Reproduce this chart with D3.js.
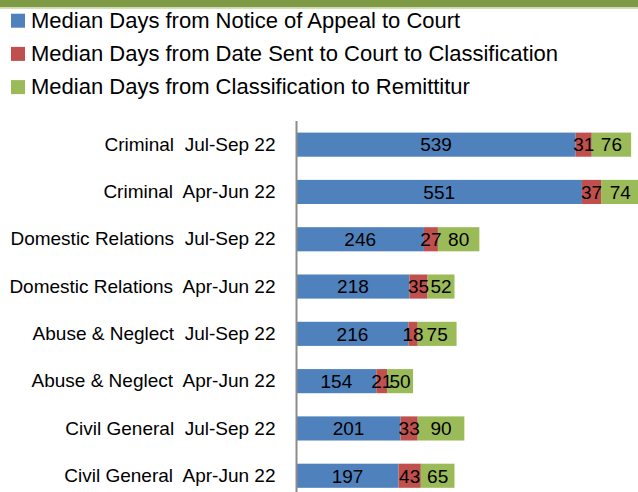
<!DOCTYPE html>
<html>
<head>
<meta charset="utf-8">
<script src="https://cdn.jsdelivr.net/npm/d3@7"></script>
<style>
    body { margin: 0; background: #fff; }
    svg { display: block; font-family: "Liberation Sans", Arial, sans-serif; }
    text { white-space: pre; }
</style>
</head>
<body>
<svg id="chart"></svg>
<script>
// categories, top to bottom
var categories = [
    "Criminal  Jul-Sep 22",
    "Criminal  Apr-Jun 22",
    "Domestic Relations  Jul-Sep 22",
    "Domestic Relations  Apr-Jun 22",
    "Abuse & Neglect  Jul-Sep 22",
    "Abuse & Neglect  Apr-Jun 22",
    "Civil General  Jul-Sep 22",
    "Civil General  Apr-Jun 22"
];

var seriesNames = [
    "Median Days from Notice of Appeal to Court",
    "Median Days from Date Sent to Court to Classification",
    "Median Days from Classification to Remittitur"
];

var noticeToCourt = [539, 551, 246, 218, 216, 154, 201, 197];
var sentToClassification = [31, 37, 27, 35, 18, 21, 33, 43];
var classificationToRemittitur = [76, 74, 80, 52, 75, 50, 90, 65];

var colours = ["#4f81bd", "#c0504d", "#9bbb59"];

var wtot = 638,
    htot = 492;

var margin = { top: 121, left: 296.5 };

const svg = d3.select("#chart")
    .attr("width", wtot)
    .attr("height", htot);

// olive band on top
svg.append("rect")
    .attr("x", 0).attr("y", 0)
    .attr("width", wtot).attr("height", 7.3)
    .attr("fill", "#7e9a45");
svg.append("rect")
    .attr("x", 0).attr("y", 7.3)
    .attr("width", wtot).attr("height", 1.5)
    .attr("fill", "#c9d9a6");

// legend
const legend = svg.append("g")
    .selectAll("g")
    .data(seriesNames)
    .join("g")
    .attr("transform", (d, i) => `translate(0, ${27.7 + i * 33.2})`);

legend.append("rect")
    .attr("x", 11)
    .attr("y", -14)
    .attr("width", 14)
    .attr("height", 14)
    .attr("fill", (d, i) => colours[i]);

legend.append("text")
    .attr("x", 31)
    .attr("y", 0)
    .attr("font-size", 22)
    .attr("fill", "#000")
    .text(d => d);

// data table for the stack
var table = categories.map((c, i) => ({
    name: c,
    s0: noticeToCourt[i],
    s1: sentToClassification[i],
    s2: classificationToRemittitur[i]
}));

const stack = d3.stack().keys(["s0", "s1", "s2"]);
const layers = stack(table);

let x = d3.scaleLinear()
    .domain([0, 700])
    .range([margin.left, margin.left + 700 * 0.518]);

let y = d3.scaleBand()
    .domain(categories)
    .range([margin.top, margin.top + 8 * 47.3])
    .paddingInner(0.49)
    .paddingOuter(0.245);

// bars
svg.append("g")
    .selectAll("g")
    .data(layers)
    .join("g")
    .attr("fill", (d, i) => colours[i])
    .selectAll("rect")
    .data(d => d)
    .join("rect")
    .attr("x", d => x(d[0]))
    .attr("width", d => x(d[1]) - x(d[0]))
    .attr("y", d => y(d.data.name))
    .attr("height", y.bandwidth());

// value labels centred in each segment, drawn above all bars
svg.append("g")
    .selectAll("g")
    .data(layers)
    .join("g")
    .selectAll("text")
    .data(d => d)
    .join("text")
    .attr("x", d => (x(d[0]) + x(d[1])) / 2)
    .attr("y", d => y(d.data.name) + y.bandwidth() / 2)
    .attr("dy", "0.36em")
    .attr("text-anchor", "middle")
    .attr("font-size", 19)
    .attr("fill", "#000")
    .text(d => d[1] - d[0]);

// category axis
const yAxis = d3.axisLeft(y).tickSize(0).tickPadding(21);

const gy = svg.append("g")
    .attr("transform", `translate(${margin.left}, 0)`)
    .call(yAxis);

gy.select(".domain")
    .attr("stroke", "#8c8c8c")
    .attr("stroke-width", 2)
    .attr("d", `M0,${margin.top}V${htot + 5}`);

gy.selectAll(".tick text")
    .attr("font-family", "Liberation Sans, Arial, sans-serif")
    .attr("font-size", 19)
    .attr("fill", "#000");
</script>
</body>
</html>
